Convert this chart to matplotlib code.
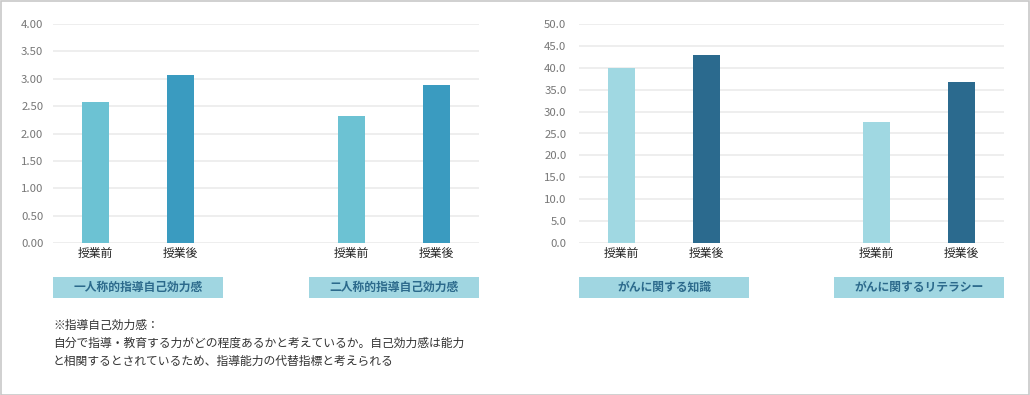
import numpy as np
import matplotlib.pyplot as plt
from matplotlib.patches import Rectangle
import matplotlib.transforms as mtransforms

plt.rcParams['font.family'] = ['Noto Sans CJK JP', 'DejaVu Sans']

# data
cats = ['授業前', '授業後']
left_groups = ['一人称的指導自己効力感', '二人称的指導自己効力感']
left_vals = [[2.58, 3.06], [2.32, 2.89]]
right_groups = ['がんに関する知識', 'がんに関するリテラシー']
right_vals = [[40.0, 43.0], [27.6, 36.8]]
left_ticks = np.arange(0, 4.01, 0.5)
right_ticks = np.arange(0, 50.1, 5)
note = ['※指導自己効力感：',
        '自分で指導・教育する力がどの程度あるかと考えているか。自己効力感は能力',
        'と相関するとされているため、指導能力の代替指標と考えられる']

W, H = 1030, 395
fig = plt.figure(figsize=(W / 100, H / 100), dpi=100)
fig.patches.append(Rectangle((0.5 / W, 0.5 / H), 1 - 1.5 / W, 1 - 1.5 / H,
                             transform=fig.transFigure, fill=False,
                             edgecolor='#c8c8c8', linewidth=1.2))


def make_axes(x0, x1, y0, y1):
    return fig.add_axes([x0 / W, 1 - y1 / H, (x1 - x0) / W, (y1 - y0) / H])


def draw(ax, groups, vals, ticks, fmt, colors, ypad):
    pos = [0, 1, 3, 4]
    heights = [v for g in vals for v in g]
    cols = colors * len(groups)
    ax.bar(pos, heights, width=0.32, color=cols, zorder=3)
    ax.set_xlim(-0.5, 4.5)
    ax.set_ylim(0, ticks[-1])
    ax.set_yticks(ticks)
    ax.set_yticklabels([fmt.format(t) for t in ticks])
    ax.set_xticks(pos)
    ax.set_xticklabels(cats * len(groups))
    ax.grid(axis='y', color='#ebebeb', linewidth=1.2, zorder=0)
    for s in ax.spines.values():
        s.set_visible(False)
    ax.tick_params(axis='y', length=0, labelsize=8.2, labelcolor='#777777', pad=ypad)
    ax.tick_params(axis='x', length=0, labelsize=8.5, labelcolor='#222222', pad=3)
    trans = mtransforms.blended_transform_factory(ax.transData, ax.transAxes)
    for i, g in enumerate(groups):
        x0 = -0.5 + 3 * i
        ax.add_patch(Rectangle((x0, -0.251), 2.0, 0.096, transform=trans,
                               facecolor='#a0d6e1', edgecolor='none',
                               clip_on=False))
        ax.text(x0 + 1.0, -0.203, g, transform=trans, ha='center', va='center',
                fontsize=8.5, fontweight='bold', color='#2c6a8c')


axl = make_axes(53, 479, 24, 243)
draw(axl, left_groups, left_vals, left_ticks, '{:.2f}', ['#6cc2d3', '#3a9bc0'], 7)
axr = make_axes(579, 1004, 24, 243)
draw(axr, right_groups, right_vals, right_ticks, '{:.1f}', ['#a0d8e2', '#2b6a8e'], 9)

for i, line in enumerate(note):
    fig.text(53 / W, 1 - (325 + 18 * i) / H, line, ha='left', va='center',
             fontsize=8.5, color='#333333')

fig.savefig('out.png', dpi=100)
